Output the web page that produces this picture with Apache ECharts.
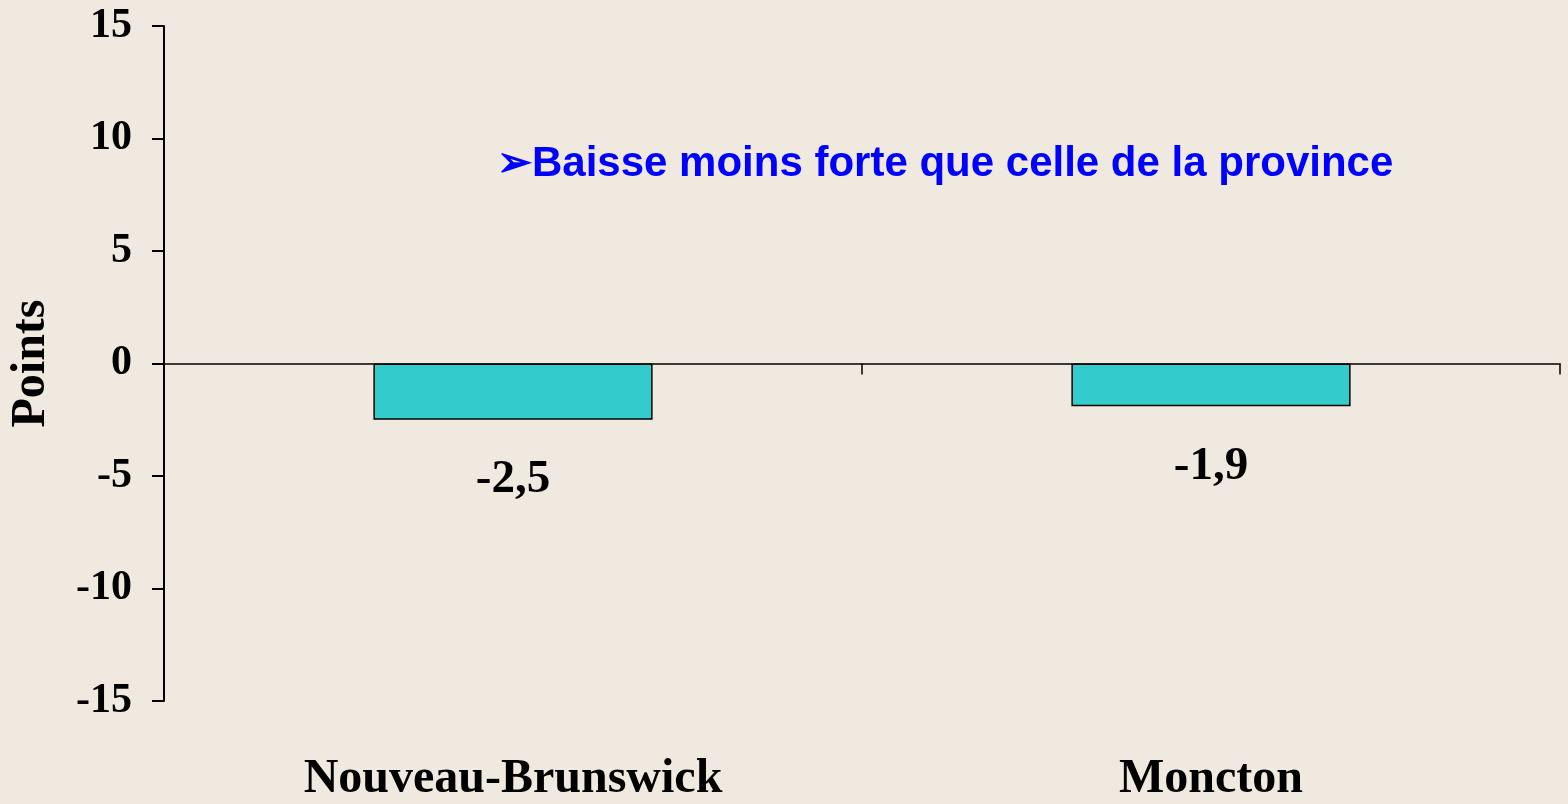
<!DOCTYPE html>
<html>
<head>
<meta charset="utf-8">
<script src="https://cdn.jsdelivr.net/npm/echarts@6/dist/echarts.min.js"></script>
<style>
html,body{margin:0;padding:0;background:#f0e9df;}
#c{width:1568px;height:804px;}
</style>
</head>
<body>
<div id="c"></div>
<script>
const categories = ['Nouveau-Brunswick', 'Moncton'];
const values = [-2.5, -1.9];
const valueLabels = ['-2,5', '-1,9'];
const yTicks = { min: -15, max: 15, interval: 5 };
const axisName = 'Points';
const note = '\u27A2Baisse moins forte que celle de la province';

const chart = echarts.init(document.getElementById('c'));
const serif = '"Liberation Serif", "Times New Roman", serif';
chart.setOption({
  backgroundColor: '#f0e9df',
  animation: false,
  grid: { left: 164, right: 8, top: 26, bottom: 91, containLabel: false },
  xAxis: [
    {
      type: 'category', data: categories, boundaryGap: true,
      axisLine: { onZero: true, lineStyle: { color: '#000', width: 1.5 } },
      axisTick: { show: true, length: 11, lineStyle: { color: '#000', width: 1.5 } },
      axisLabel: { show: false },
      splitLine: { show: false }
    },
    {
      type: 'category', data: categories, position: 'bottom',
      axisLine: { show: false, onZero: false }, axisTick: { show: false },
      axisLabel: { show: true, margin: 55, color: '#000', fontFamily: serif, fontWeight: 'bold', fontSize: 48 },
      splitLine: { show: false }
    }
  ],
  yAxis: {
    type: 'value', min: yTicks.min, max: yTicks.max, interval: yTicks.interval,
    name: axisName, nameLocation: 'middle', nameRotate: 90, nameGap: 108,
    nameTextStyle: { color: '#000', fontFamily: serif, fontWeight: 'bold', fontSize: 48 },
    axisLine: { show: true, lineStyle: { color: '#000', width: 2 } },
    axisTick: { show: true, length: 12, lineStyle: { color: '#000', width: 2 } },
    axisLabel: { margin: 32, color: '#000', fontFamily: serif, fontWeight: 'bold', fontSize: 42 },
    splitLine: { show: false }
  },
  series: [{
    type: 'bar', xAxisIndex: 0, data: values, barWidth: '40%',
    itemStyle: { color: '#33cccc', borderColor: '#000', borderWidth: 1.5 },
    label: {
      show: true, position: 'bottom', distance: 37, color: '#000',
      fontFamily: serif, fontWeight: 'bold', fontSize: 47,
      formatter: p => valueLabels[p.dataIndex]
    }
  }],
  graphic: [{
    type: 'text', left: 497, top: 143,
    style: { text: note, fill: '#0000ff', font: 'bold 42px "Liberation Sans", Arial, sans-serif' }
  }]
});
</script>
</body>
</html>
